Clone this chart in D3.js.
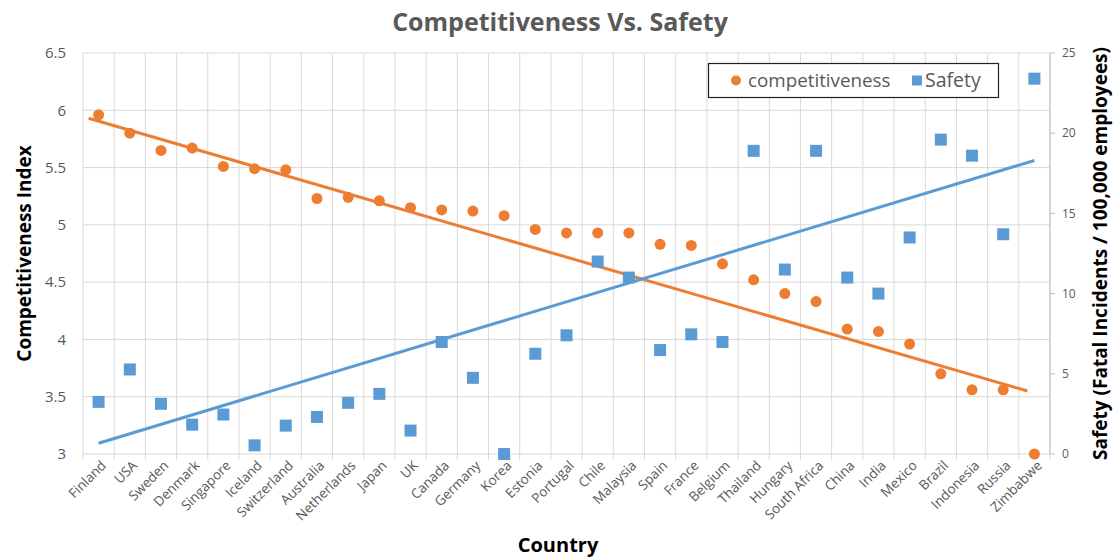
<!DOCTYPE html>
<html>
<head>
<meta charset="utf-8">
<script src="https://cdn.jsdelivr.net/npm/d3@7"></script>
<style>
  body { margin: 0; background: #fff; }
  text { font-family: 'Open Sans', sans-serif; }
</style>
</head>
<body>
<script>
const countries = ['Finland', 'USA', 'Sweden', 'Denmark', 'Singapore', 'Iceland', 'Switzerland', 'Australia',
  'Netherlands', 'Japan', 'UK', 'Canada', 'Germany', 'Korea', 'Estonia', 'Portugal', 'Chile', 'Malaysia',
  'Spain', 'France', 'Belgium', 'Thailand', 'Hungary', 'South Africa', 'China', 'India', 'Mexico', 'Brazil',
  'Indonesia', 'Russia', 'Zimbabwe']

const competitiveness = [5.96, 5.80, 5.65, 5.67, 5.51, 5.49, 5.48, 5.23, 5.24, 5.21, 5.15, 5.13, 5.12, 5.08,
  4.96, 4.93, 4.93, 4.93, 4.83, 4.82, 4.66, 4.52, 4.40, 4.33, 4.09, 4.07, 3.96, 3.70, 3.56, 3.56, 3.00]

const safety = [3.25, 5.27, 3.13, 1.83, 2.46, 0.54, 1.77, 2.31, 3.19, 3.75, 1.46, 6.98, 4.75, 0, 6.25, 7.40,
  12.0, 11.0, 6.48, 7.46, 6.98, 18.9, 11.5, 18.9, 11.0, 10.0, 13.5, 19.6, 18.6, 13.7, 23.4]

// trend lines as drawn (value at first and last country)
const compTrend = [5.93, 3.55]
const safetyTrend = [0.67, 18.3]

const compTicks = [3, 3.5, 4, 4.5, 5, 5.5, 6, 6.5]
const safetyTicks = [0, 5, 10, 15, 20, 25]

const width = 1116, height = 559
const plot = { left: 83, right: 1050, top: 53, bottom: 454 }

const orange = '#ED7D31'
const blue = '#5B9BD5'
const grid = '#d9d9d9'
const labelColor = '#595959'

const svg = d3.select('body').append('svg')
  .attr('width', width)
  .attr('height', height)

const x = d3.scaleBand().domain(countries).range([plot.left, plot.right]).padding(0)
const y = d3.scaleLinear().domain([3, 6.5]).range([plot.bottom, plot.top])
const y2 = d3.scaleLinear().domain([0, 25]).range([plot.bottom, plot.top])
const cx = d => x(d) + x.bandwidth() / 2

// gridlines
const bounds = countries.map(c => x(c)).concat([plot.right])
svg.append('g').selectAll('line')
  .data(bounds)
  .enter().append('line')
  .attr('x1', d => d).attr('x2', d => d)
  .attr('y1', plot.top).attr('y2', plot.bottom + 6)
  .attr('stroke', grid).attr('stroke-width', 1)

svg.append('g').selectAll('line')
  .data(compTicks)
  .enter().append('line')
  .attr('x1', plot.left).attr('x2', plot.right)
  .attr('y1', d => y(d)).attr('y2', d => y(d))
  .attr('stroke', grid).attr('stroke-width', 1)

// right axis line + ticks
svg.append('line')
  .attr('x1', plot.right).attr('x2', plot.right).attr('y1', plot.top).attr('y2', plot.bottom)
  .attr('stroke', '#bfbfbf')
svg.append('g').selectAll('line')
  .data(safetyTicks)
  .enter().append('line')
  .attr('x1', plot.right).attr('x2', plot.right + 5)
  .attr('y1', d => y2(d)).attr('y2', d => y2(d))
  .attr('stroke', '#bfbfbf')

// left axis labels
svg.append('g').selectAll('text')
  .data(compTicks)
  .enter().append('text')
  .attr('x', plot.left - 17)
  .attr('y', d => y(d))
  .attr('dy', '0.35em')
  .attr('text-anchor', 'end')
  .attr('font-size', 15)
  .attr('fill', labelColor)
  .text(d => d)

// right axis labels
svg.append('g').selectAll('text')
  .data(safetyTicks)
  .enter().append('text')
  .attr('x', plot.right + 12)
  .attr('y', d => y2(d))
  .attr('dy', '0.35em')
  .attr('font-size', 12)
  .attr('fill', labelColor)
  .text(d => d)

// country labels
svg.append('g').selectAll('text')
  .data(countries)
  .enter().append('text')
  .attr('transform', d => `translate(${cx(d) + 5}, ${plot.bottom + 9}) rotate(-45)`)
  .attr('dy', '0.35em')
  .attr('text-anchor', 'end')
  .attr('font-size', 13.5)
  .attr('fill', labelColor)
  .text(d => d)

// trend lines
const first = countries[0], last = countries[countries.length - 1]
svg.append('line')
  .attr('x1', cx(first) - 10).attr('y1', y(compTrend[0]))
  .attr('x2', cx(last) - 7).attr('y2', y(compTrend[1]))
  .attr('stroke', orange).attr('stroke-width', 3)
svg.append('line')
  .attr('x1', cx(first)).attr('y1', y2(safetyTrend[0]))
  .attr('x2', cx(last)).attr('y2', y2(safetyTrend[1]))
  .attr('stroke', blue).attr('stroke-width', 3)

// points
svg.append('g').selectAll('circle')
  .data(countries)
  .enter().append('circle')
  .attr('cx', d => cx(d))
  .attr('cy', (d, i) => y(competitiveness[i]))
  .attr('r', 5.5)
  .attr('fill', orange)

svg.append('g').selectAll('rect')
  .data(countries)
  .enter().append('rect')
  .attr('x', d => cx(d) - 6)
  .attr('y', (d, i) => y2(safety[i]) - 6)
  .attr('width', 12).attr('height', 12)
  .attr('fill', blue)

// legend
const lg = svg.append('g')
lg.append('rect')
  .attr('x', 708.5).attr('y', 63.5).attr('width', 290).attr('height', 34)
  .attr('fill', '#fff').attr('stroke', '#222').attr('stroke-width', 1.2)
lg.append('circle').attr('cx', 736).attr('cy', 80.5).attr('r', 5).attr('fill', orange)
lg.append('text').attr('x', 748).attr('y', 80.5).attr('dy', '0.35em')
  .attr('font-size', 18.8).attr('fill', labelColor).text('competitiveness')
lg.append('rect').attr('x', 912).attr('y', 75.5).attr('width', 10).attr('height', 10).attr('fill', blue)
lg.append('text').attr('x', 925).attr('y', 80.5).attr('dy', '0.35em')
  .attr('font-size', 19.5).attr('fill', labelColor).text('Safety')

// titles
svg.append('text')
  .attr('x', 560).attr('y', 31)
  .attr('text-anchor', 'middle')
  .attr('font-size', 25).attr('font-weight', 'bold')
  .attr('fill', labelColor)
  .text('Competitiveness Vs. Safety')

svg.append('text')
  .attr('transform', `translate(24, ${(plot.top + plot.bottom) / 2}) rotate(-90)`)
  .attr('text-anchor', 'middle')
  .attr('dy', '0.35em')
  .attr('font-size', 19).attr('font-weight', 'bold')
  .attr('fill', '#000')
  .text('Competitiveness Index')

svg.append('text')
  .attr('transform', `translate(1100, ${(plot.top + plot.bottom) / 2}) rotate(-90)`)
  .attr('text-anchor', 'middle')
  .attr('dy', '0.35em')
  .attr('font-size', 19).attr('font-weight', 'bold')
  .attr('fill', '#000')
  .text('Safety (Fatal Incidents / 100,000 employees)')

svg.append('text')
  .attr('x', 558).attr('y', 552)
  .attr('text-anchor', 'middle')
  .attr('font-size', 20).attr('font-weight', 'bold')
  .attr('fill', '#000')
  .text('Country')
</script>
</body>
</html>
